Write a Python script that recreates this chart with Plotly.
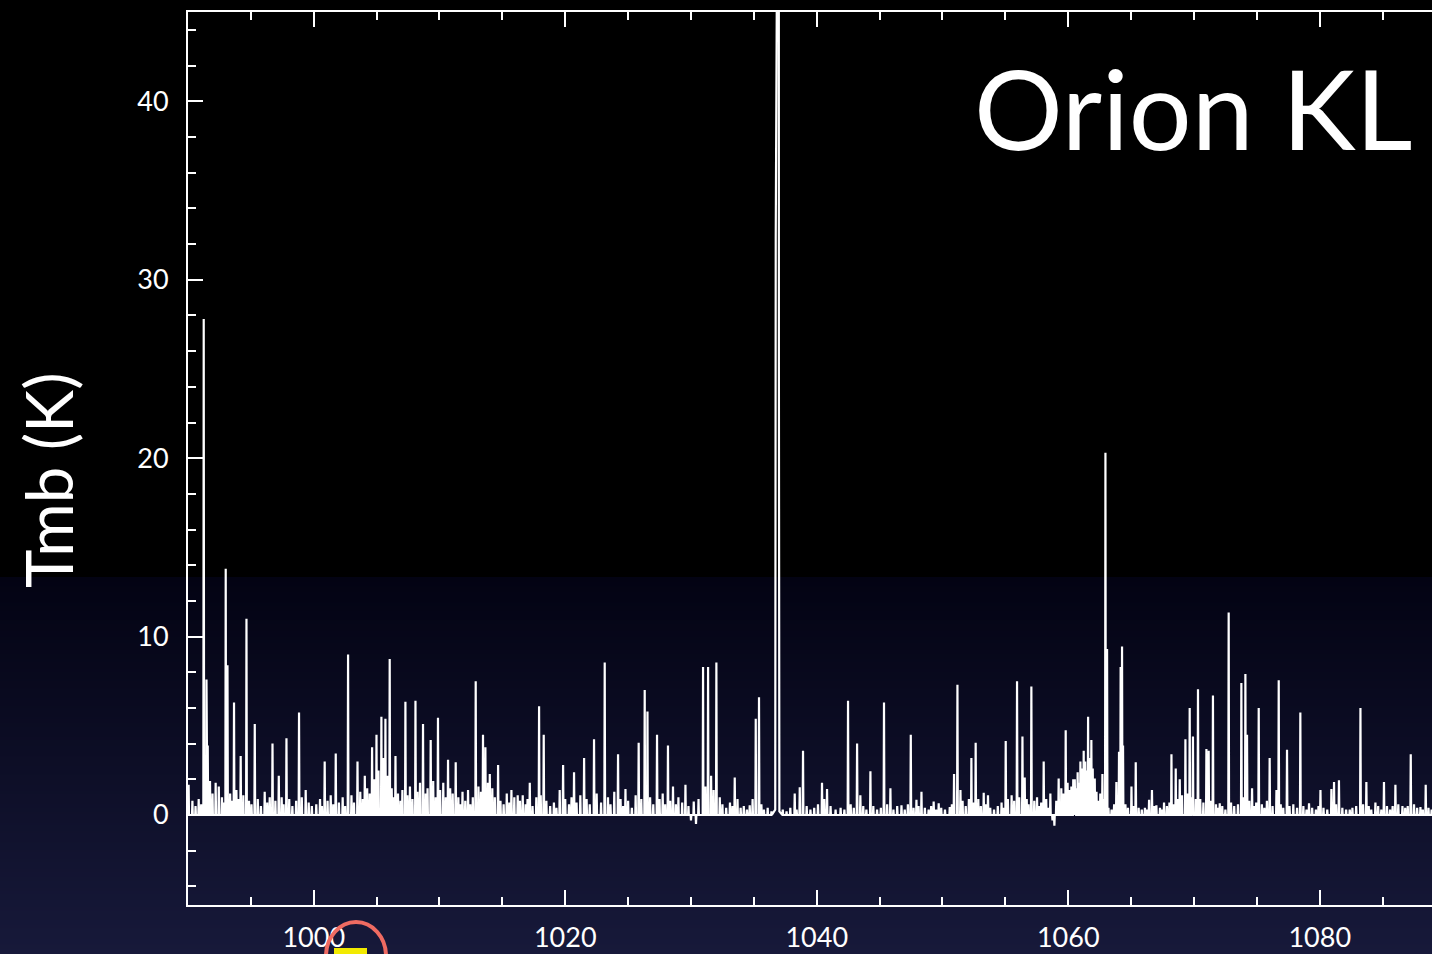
import base64
import struct
import zlib
import plotly.graph_objects as go

# ---------------- data ----------------
# strong emission lines: (frequency GHz, peak Tmb K)
lines_strong = [
    (991.25, 27.8), (991.47, 7.6), (991.57, 3.9), (993.00, 13.8), (993.14, 8.4),
    (993.66, 6.3), (994.19, 3.3), (994.65, 11.0), (995.31, 5.1), (996.10, 1.3),
    (996.72, 4.0), (997.22, 2.2), (997.83, 4.3), (998.83, 5.75), (999.36, 1.4),
    (1000.87, 3.0), (1001.75, 3.45), (1002.73, 9.0), (1003.48, 3.0), (1004.06, 2.2),
    (1004.64, 3.8), (1004.99, 4.5), (1005.38, 5.5), (1005.70, 5.4), (1006.04, 8.75),
    (1006.50, 3.3), (1007.29, 6.35), (1008.09, 6.4), (1008.69, 5.1), (1009.30, 4.2),
    (1009.88, 5.45), (1010.68, 3.1), (1011.29, 2.95), (1011.83, 1.3), (1012.27, 1.4),
    (1012.88, 7.5), (1013.46, 4.5), (1013.65, 3.8), (1014.00, 2.3), (1014.66, 2.8),
    (1015.72, 1.4), (1016.22, 1.1), (1016.62, 1.1), (1017.18, 1.8), (1017.92, 6.1),
    (1018.29, 4.5), (1019.56, 1.4), (1019.83, 2.8), (1020.70, 2.4), (1021.50, 3.2),
    (1022.29, 4.25), (1023.14, 8.55), (1024.20, 3.4), (1024.79, 1.45), (1025.84, 4.05),
    (1026.32, 7.0), (1026.54, 5.8), (1027.30, 4.5), (1028.17, 3.9), (1028.57, 1.6),
    (1029.56, 1.7), (1030.22, 0.75), (1030.96, 8.3), (1031.36, 8.3), (1032.02, 8.55),
    (1032.29, 1.0), (1033.48, 2.1), (1034.67, 0.55), (1035.15, 5.4), (1035.41, 6.6),
    (1038.25, 1.2), (1038.65, 1.55), (1038.91, 3.6), (1040.42, 1.8), (1040.82, 1.45),
    (1042.49, 6.4), (1043.21, 4.0), (1043.47, 1.1), (1044.27, 2.45), (1045.35, 6.3),
    (1045.86, 1.5), (1046.74, 0.55), (1047.48, 4.5), (1047.93, 0.85), (1048.33, 1.3),
    (1049.30, 0.75), (1049.70, 0.65), (1050.58, 0.45), (1050.92, 2.3), (1051.19, 7.3),
    (1051.43, 1.4), (1052.30, 3.2), (1052.64, 4.05), (1053.28, 1.25), (1053.62, 1.1),
    (1055.03, 4.15), (1055.93, 7.5), (1056.36, 4.4), (1056.54, 2.1), (1057.07, 7.2),
    (1057.52, 1.0), (1058.05, 3.0), (1058.58, 1.2), (1059.24, 2.05), (1059.80, 4.75),
    (1060.25, 1.6), (1060.52, 2.0), (1060.97, 3.0), (1061.23, 3.6), (1061.58, 5.5),
    (1061.84, 4.2), (1062.11, 2.05), (1062.72, 2.3), (1062.96, 20.3), (1063.09, 9.3),
    (1063.83, 1.85), (1064.04, 3.55), (1064.17, 8.3), (1064.28, 9.45), (1064.36, 3.9),
    (1065.03, 1.6), (1065.37, 2.95), (1066.43, 0.85), (1066.66, 1.4), (1067.01, 0.55),
    (1067.62, 0.7), (1068.21, 3.4), (1068.55, 2.6), (1068.87, 2.0), (1069.32, 4.25),
    (1069.66, 6.0), (1069.92, 4.4), (1070.32, 7.05), (1070.99, 3.7), (1071.17, 3.6),
    (1071.51, 6.7), (1072.05, 0.65), (1072.76, 11.35), (1073.77, 7.4), (1074.09, 7.9),
    (1074.22, 4.5), (1074.62, 1.5), (1075.15, 6.0), (1076.02, 3.2), (1076.56, 1.4),
    (1076.74, 7.55), (1077.40, 3.65), (1078.46, 5.75), (1079.15, 0.65), (1080.06, 1.4),
    (1080.93, 1.45), (1081.14, 1.85), (1081.53, 1.95), (1082.39, 0.3), (1083.24, 6.0),
    (1083.71, 1.85), (1084.43, 0.7), (1085.11, 1.85), (1086.02, 1.7), (1086.58, 0.5),
    (1087.24, 3.4), (1088.01, 0.45), (1088.43, 1.7),
]

# weak features forming the noisy baseline: (frequency GHz, Tmb K)
lines_weak = [
    (990.05, 1.7), (990.35, 0.8), (990.6, 0.5), (990.85, 0.9), (991.05, 0.6),
    (991.75, 1.9), (991.95, 1.2), (992.2, 1.8), (992.45, 1.6), (992.7, 1.0), (992.85, 0.7),
    (993.35, 1.2), (993.5, 0.8), (993.85, 1.4), (994.0, 0.9), (994.4, 1.1), (994.85, 0.8),
    (995.05, 0.6), (995.55, 0.9), (995.8, 0.5), (996.3, 0.7), (996.5, 1.0), (996.95, 0.8),
    (997.45, 1.0), (997.6, 0.6), (998.05, 0.9), (998.3, 0.5), (998.6, 0.8), (999.05, 1.0),
    (999.6, 0.7), (999.85, 0.5), (1000.2, 0.6), (1000.5, 0.9), (1000.65, 0.5), (1001.1, 0.8),
    (1001.35, 1.1), (1001.55, 0.6), (1002.0, 0.7), (1002.3, 1.0), (1002.5, 0.5), (1003.0, 1.1),
    (1003.2, 0.7), (1003.7, 1.3), (1003.9, 0.9), (1004.25, 1.5), (1004.45, 1.2), (1004.8, 2.0),
    (1005.15, 2.5), (1005.55, 3.2), (1005.85, 2.2), (1006.2, 1.5), (1006.35, 1.0), (1006.7, 1.2),
    (1006.9, 0.8), (1007.05, 1.4), (1007.45, 1.1), (1007.65, 1.6), (1007.85, 0.9), (1008.25, 1.3),
    (1008.45, 1.8), (1008.9, 1.2), (1009.05, 1.5), (1009.5, 1.9), (1009.7, 1.0), (1010.05, 1.4),
    (1010.3, 1.8), (1010.5, 1.0), (1010.85, 1.5), (1011.05, 1.2), (1011.5, 1.0), (1011.65, 0.6),
    (1012.05, 0.8), (1012.45, 0.6), (1012.65, 1.0), (1013.1, 1.6), (1013.3, 1.3), (1013.85, 1.8),
    (1014.2, 1.5), (1014.4, 1.0), (1014.85, 0.8), (1015.1, 0.6), (1015.35, 1.2), (1015.55, 0.7),
    (1015.95, 1.0), (1016.4, 0.8), (1016.85, 0.6), (1017.0, 0.9), (1017.4, 0.5), (1017.7, 1.0),
    (1018.05, 1.1), (1018.5, 0.8), (1018.8, 0.5), (1019.1, 0.7), (1019.3, 0.4), (1020.0, 0.9),
    (1020.3, 0.6), (1020.5, 1.0), (1020.9, 0.7), (1021.2, 1.1), (1021.7, 0.9), (1021.95, 0.6),
    (1022.5, 1.2), (1022.85, 0.7), (1023.4, 1.0), (1023.6, 0.6), (1023.9, 1.3), (1024.4, 0.9),
    (1024.6, 0.5), (1025.0, 0.8), (1025.3, 0.4), (1025.6, 1.1), (1026.05, 0.9), (1026.75, 1.0),
    (1027.0, 0.6), (1027.5, 0.9), (1027.75, 1.2), (1027.95, 0.6), (1028.35, 0.8), (1028.8, 0.6),
    (1029.0, 1.0), (1029.3, 0.7), (1029.8, 0.5), (1030.0, -0.3), (1030.4, -0.5), (1030.6, 0.9),
    (1031.15, 1.6), (1031.6, 2.2), (1031.8, 1.4), (1032.5, 0.6), (1032.8, 0.4), (1033.1, 0.7),
    (1033.3, 0.5), (1033.7, 0.9), (1033.95, 0.4), (1034.2, 0.5), (1034.45, 0.3), (1034.9, 0.9),
    (1035.6, 0.6), (1035.8, 0.3), (1036.1, 0.4), (1036.4, 0.2), (1037.3, 0.3), (1037.6, 0.2),
    (1037.9, 0.4), (1038.4, 0.3), (1039.2, 0.5), (1039.5, 0.3), (1039.8, 0.4), (1040.1, 0.6),
    (1040.6, 0.9), (1041.1, 0.5), (1041.5, 0.3), (1041.9, 0.4), (1042.2, 0.3), (1042.7, 0.6),
    (1042.95, 0.4), (1043.7, 0.5), (1043.95, 0.3), (1044.5, 0.5), (1044.8, 0.3), (1045.1, 0.4),
    (1045.6, 0.6), (1046.1, 0.3), (1046.4, 0.5), (1047.0, 0.3), (1047.25, 0.6), (1047.7, 0.4),
    (1048.1, 0.5), (1048.6, 0.4), (1048.9, 0.3), (1049.1, 0.5), (1049.5, 0.3), (1049.9, 0.4),
    (1050.2, 0.3), (1050.75, 0.6), (1051.6, 0.8), (1051.85, 0.5), (1052.1, 0.9), (1052.5, 0.7),
    (1052.85, 0.9), (1053.05, 0.5), (1053.45, 0.6), (1053.8, 0.4), (1054.1, 0.3), (1054.4, 0.5),
    (1054.7, 0.7), (1054.85, 0.4), (1055.2, 0.9), (1055.5, 1.1), (1055.7, 0.8), (1056.1, 1.0),
    (1056.7, 0.9), (1056.85, 0.6), (1057.3, 0.8), (1057.7, 0.5), (1057.85, 0.7), (1058.25, 0.9),
    (1058.4, 0.4), (1058.75, -0.3), (1058.9, -0.6), (1059.05, 0.8), (1059.45, 1.5), (1059.6, 1.2),
    (1059.95, 1.8), (1060.1, 1.4), (1060.4, 2.0), (1060.6, 1.5), (1060.75, 2.4), (1060.85, 1.8),
    (1061.05, 2.6), (1061.15, 2.0), (1061.35, 3.0), (1061.45, 2.5), (1061.7, 3.2), (1061.95, 2.6),
    (1062.05, 1.8), (1062.25, 1.3), (1062.4, 0.8), (1062.55, 1.2), (1062.85, 0.9), (1063.2, 0.4),
    (1063.45, 0.3), (1063.65, 0.6), (1064.55, 0.6), (1064.75, 0.4), (1065.2, 0.5), (1065.6, 0.4),
    (1065.85, 0.3), (1066.1, 0.4), (1066.25, 0.3), (1066.85, 0.5), (1067.3, 0.4), (1067.45, 0.3),
    (1067.85, 0.5), (1068.05, 0.7), (1068.4, 0.6), (1068.7, 0.9), (1069.05, 1.1), (1069.5, 1.2),
    (1069.8, 1.0), (1070.15, 0.9), (1070.5, 0.9), (1070.75, 0.7), (1071.35, 0.8), (1071.75, 0.6),
    (1071.9, 0.4), (1072.25, 0.5), (1072.5, 0.3), (1072.95, 0.7), (1073.2, 0.5), (1073.5, 0.6),
    (1073.95, 1.0), (1074.4, 0.8), (1074.8, 0.5), (1074.95, 0.7), (1075.4, 0.6), (1075.6, 0.4),
    (1075.8, 0.8), (1076.25, 0.5), (1076.9, 0.6), (1077.1, 0.4), (1077.6, 0.5), (1077.9, 0.6),
    (1078.2, 0.4), (1078.7, 0.5), (1078.95, 0.3), (1079.4, 0.4), (1079.7, 0.3), (1079.9, 0.5),
    (1080.3, 0.4), (1080.6, 0.3), (1081.3, 0.6), (1081.8, 0.4), (1082.1, 0.3), (1082.6, 0.4),
    (1082.9, 0.5), (1083.45, 0.6), (1083.9, 0.5), (1084.1, 0.3), (1084.65, 0.5), (1084.9, 0.3),
    (1085.35, 0.5), (1085.6, 0.3), (1085.8, 0.5), (1086.25, 0.6), (1086.8, 0.4), (1087.0, 0.5),
    (1087.5, 0.6), (1087.75, 0.4), (1088.2, 0.3), (1088.65, 0.4), (1088.9, 0.3),
]

# the saturated line near 1037 GHz (profile samples, goes off scale)
sat_freq = [1036.70, 1036.74, 1036.75, 1036.98, 1036.99, 1037.03]
sat_tmb = [0.3, 32.4, 70.0, 70.0, 25.3, 0.2]

x_tickvals = [1000, 1020, 1040, 1060, 1080]
y_tickvals = [0, 10, 20, 30, 40]
x_range = [990.0, 1088.93]
y_range = [-5.045, 45.01]

# ---------------- build the spectrum trace ----------------
HALF = 0.03
segments = []
for f, t in lines_strong + lines_weak:
    segments.append(([f - HALF, f, f + HALF], [0.0, t, 0.0]))
segments.append((sat_freq, sat_tmb))
segments.sort(key=lambda s: s[0][0])
xs, ys = [], []
for sx, sy in segments:
    xs.extend(sx)
    ys.extend(sy)

# ---------------- figure geometry ----------------
W, H = 1432, 954
ML, MR, MT, MB = 188, 0, 12, 49
PW, PH = W - ML - MR, H - MT - MB


def px_x(p):
    return (p - ML) / PW


def px_y(p):
    return (H - MB - p) / PH


# background: vertical black -> navy gradient as a tiny PNG (styling only)
def gradient_png(height):
    raw = b""
    start = 577
    c0 = (3, 3, 19)
    c1 = (23, 25, 58)
    for r in range(height):
        if r < start:
            col = (0, 0, 0)
        else:
            t = (r - start) / (height - 1 - start)
            col = tuple(int(round(a + (b - a) * t)) for a, b in zip(c0, c1))
        raw += b"\x00" + bytes(col) * 2
    def chunk(tag, data):
        return (struct.pack(">I", len(data)) + tag + data
                + struct.pack(">I", zlib.crc32(tag + data) & 0xFFFFFFFF))
    png = b"\x89PNG\r\n\x1a\n"
    png += chunk(b"IHDR", struct.pack(">IIBBBBB", 2, height, 8, 2, 0, 0, 0))
    png += chunk(b"IDAT", zlib.compress(raw, 9))
    png += chunk(b"IEND", b"")
    return "data:image/png;base64," + base64.b64encode(png).decode()


bg_src = gradient_png(H)

fig = go.Figure()
fig.add_trace(go.Scatter(
    x=xs, y=ys, mode="lines",
    line=dict(color="white", width=2.2),
    hoverinfo="skip", showlegend=False,
))

FONT = "Lato, 'Open Sans', sans-serif"

fig.update_layout(
    width=W, height=H,
    margin=dict(l=ML, r=MR, t=MT, b=MB, pad=0),
    paper_bgcolor="#000000",
    plot_bgcolor="rgba(0,0,0,0)",
    showlegend=False,
    images=[dict(
        source=bg_src, xref="paper", yref="paper",
        x=-ML / PW, y=1 + MT / PH, sizex=W / PW, sizey=H / PH,
        xanchor="left", yanchor="top", sizing="stretch", layer="below",
    )],
    xaxis=dict(
        range=x_range, tickvals=x_tickvals, ticktext=[str(v) for v in x_tickvals],
        ticks="inside", ticklen=15, tickwidth=2, tickcolor="white",
        minor=dict(dtick=5, tick0=0, ticks="inside", ticklen=8, tickwidth=2, tickcolor="white"),
        showline=True, linecolor="white", linewidth=2, mirror="ticks",
        showgrid=False, zeroline=False, automargin=False,
        tickfont=dict(family=FONT, size=27, color="white"),
        ticklabelstandoff=8,
    ),
    yaxis=dict(
        range=y_range, tickvals=y_tickvals, ticktext=[str(v) for v in y_tickvals],
        ticks="inside", ticklen=15, tickwidth=2, tickcolor="white",
        minor=dict(dtick=2, tick0=0, ticks="inside", ticklen=8, tickwidth=2, tickcolor="white"),
        showline=True, linecolor="white", linewidth=2, mirror=False,
        showgrid=False, zeroline=False, automargin=False,
        tickfont=dict(family=FONT, size=27, color="white"),
        ticklabelstandoff=12,
    ),
    annotations=[
        dict(text="Tmb (K)", xref="paper", yref="paper",
             x=px_x(48), y=px_y(480), xanchor="center", yanchor="middle",
             textangle=-90, showarrow=False,
             font=dict(family=FONT, size=65, color="white")),
        dict(text="Orion KL", xref="paper", yref="paper",
             x=px_x(1193), y=px_y(107), xanchor="center", yanchor="middle",
             showarrow=False,
             font=dict(family=FONT, size=111, color="white")),
    ],
    shapes=[
        dict(type="rect", xref="paper", yref="paper",
             x0=px_x(334), x1=px_x(367), y0=px_y(948), y1=px_y(960),
             fillcolor="#f2ea00", line=dict(width=0), layer="above"),
        dict(type="circle", xref="paper", yref="paper",
             x0=px_x(326), x1=px_x(386), y0=px_y(922), y1=px_y(990),
             line=dict(color="#ef6b62", width=4), layer="above"),
    ],
)

fig.write_html("out.html")
